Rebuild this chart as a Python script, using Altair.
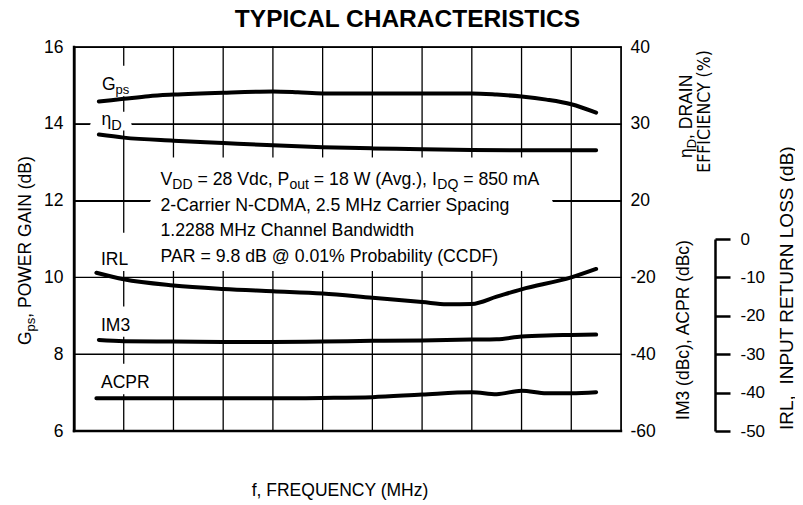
import altair as alt
import pandas as pd

# ---------------- data ----------------
freq_gps = [1870, 1880, 1890, 1900, 1920, 1940, 1950, 1960, 1980, 2000, 2020, 2030, 2040, 2050, 2060, 2070]
gps_db = [14.58, 14.65, 14.72, 14.76, 14.81, 14.84, 14.82, 14.79, 14.79, 14.79, 14.79, 14.76, 14.71, 14.63, 14.51, 14.29]

freq_eff = [1870, 1880, 1900, 1920, 1940, 1960, 1980, 2000, 2020, 2040, 2060, 2070]
eff_pct = [28.6, 28.2, 27.8, 27.5, 27.2, 26.95, 26.8, 26.7, 26.6, 26.55, 26.55, 26.55]

freq_irl = [1869, 1880, 1900, 1920, 1940, 1960, 1980, 2000, 2010, 2020, 2030, 2040, 2060, 2070]
irl_db = [-8.8, -10.5, -12.1, -13.0, -13.6, -14.2, -15.3, -16.4, -17.0, -16.9, -15.0, -13.1, -10.0, -7.8]

freq_im3 = [1870, 1880, 1900, 1920, 1940, 1960, 1980, 2000, 2020, 2030, 2040, 2050, 2060, 2070]
im3_dbc = [-36.3, -36.6, -36.7, -36.8, -36.8, -36.7, -36.5, -36.4, -36.2, -36.1, -35.4, -35.1, -35.0, -34.9]

freq_acpr = [1869, 1900, 1940, 1960, 1980, 2000, 2020, 2030, 2040, 2050, 2060, 2070]
acpr_dbc = [-51.5, -51.5, -51.5, -51.4, -51.2, -50.5, -49.9, -50.4, -49.5, -50.2, -50.2, -49.9]

x_ticks = [1860, 1880, 1900, 1920, 1940, 1960, 1980, 2000, 2020, 2040, 2060, 2080]
gain_ticks = [6, 8, 10, 12, 14, 16]
eff_ticks = [20, 30, 40]
dbc_ticks = [-60, -40, -20]
irl_ticks = [0, -10, -20, -30, -40, -50]

title_text = "TYPICAL CHARACTERISTICS"
x_title = "f, FREQUENCY (MHz)"
cond_lines = [
    [("V", False), ("DD", True), (" = 28 Vdc, P", False), ("out", True),
     (" = 18 W (Avg.), I", False), ("DQ", True), (" = 850 mA", False)],
    [("2-Carrier N-CDMA, 2.5 MHz Carrier Spacing", False)],
    [("1.2288 MHz Channel Bandwidth", False)],
    [("PAR = 9.8 dB @ 0.01% Probability (CCDF)", False)],
]

# ---------------- layout ----------------
W, H = 547, 384
OX, OY = 74, 47          # plot origin in page coordinates
FONT = "Liberation Sans, Arial, Helvetica, sans-serif"
NARROW = "Liberation Sans Narrow, DejaVu Sans Condensed, Liberation Sans, Arial, sans-serif"
FS = 17.5

# gaps in the grid behind labels: (f_from, f_to, gain_from, gain_to) in data units
label_gaps = [
    (1890.6, 2052.6, 10.15, 13.14),   # condition text block
    (1868.8, 1883.0, 14.70, 15.53),   # Gps
    (1866.4, 1883.3, 13.81, 14.33),   # eta D
    (1868.8, 1884.1, 10.15, 11.18),   # IRL
    (1868.8, 1884.1, 8.44, 9.26),     # IM3
    (1868.8, 1891.4, 6.94, 7.77),     # ACPR
]

AW = {' ': 278, '!': 278, '%': 889, '(': 333, ')': 333, ',': 278, '-': 333, '.': 278,
      '=': 584, '@': 1015, 'A': 667, 'B': 667, 'C': 722, 'D': 722, 'E': 667, 'F': 611,
      'G': 778, 'H': 722, 'I': 278, 'K': 667, 'L': 556, 'M': 833, 'N': 722, 'O': 778,
      'P': 667, 'Q': 778, 'R': 722, 'S': 667, 'T': 611, 'U': 722, 'V': 667, 'W': 944,
      'Y': 667, 'a': 556, 'b': 556, 'c': 500, 'd': 556, 'e': 556, 'f': 278, 'g': 556,
      'h': 556, 'i': 222, 'l': 222, 'm': 833, 'n': 556, 'o': 556, 'p': 556, 'r': 333,
      's': 500, 't': 278, 'u': 556, 'v': 500, 'w': 722, 'y': 500, 'z': 500, 'η': 556}


def tw(s, size):
    return sum(AW.get(c, 556) for c in s) * size / 1000.0


def txt(s, x, y, size=FS, angle=0, align="left", weight="normal", font=FONT):
    return alt.Chart(alt.Data(values=[{"k": 0}])).mark_text(
        text=s, fontSize=size, angle=angle, align=align, baseline="alphabetic",
        font=font, fontWeight=weight, color="black"
    ).encode(x=alt.value(x - OX), y=alt.value(y - OY))


def rich(segments, x0, y0, size=FS, subsize=13.5, drop=4.0, angle=0):
    out = []
    pos = 0.0
    for text, sub in segments:
        sz = subsize if sub else size
        body = text.lstrip(" ")
        pos += tw(text[: len(text) - len(body)], sz)
        t = body.rstrip(" ")
        d = drop if sub else 0.0
        if angle == 0:
            out.append(txt(t, x0 + pos, y0 + d, sz))
        else:
            out.append(txt(t, x0 + d, y0 - pos, sz, angle=270))
        pos += tw(body, sz)
    return out


def subtract(lo, hi, cuts):
    segs = [(lo, hi)]
    for a, b in cuts:
        new = []
        for s, e in segs:
            if b <= s or a >= e:
                new.append((s, e))
                continue
            if a > s:
                new.append((s, a))
            if b < e:
                new.append((b, e))
        segs = new
    return segs


# scales / shared x encoding (axis grids on, ticks kept at zero length)
x_scale = alt.Scale(domain=[1860, 2080], nice=False, zero=False)
g_scale = alt.Scale(domain=[6, 16], nice=False, zero=False)
x_enc = alt.X("f:Q", scale=x_scale,
              axis=alt.Axis(values=x_ticks, grid=True, gridColor="black", gridWidth=1.2,
                            gridOpacity=1, ticks=True, tickSize=0, domain=True,
                            domainColor="black", domainWidth=2.2,
                            labelPadding=16, labelFlush=False, title=None,
                            format="d", labelFontSize=FS))


def gain_axis(label_opacity, grid):
    return alt.Axis(orient="left", values=gain_ticks, grid=grid, gridColor="black",
                    gridWidth=1.2, gridOpacity=1, ticks=True, tickSize=0,
                    domain=grid, domainColor="black", domainWidth=2.2,
                    labelPadding=11, labelFlush=False, title=None,
                    labelFontSize=FS, labelOpacity=label_opacity)


# white boxes behind in-plot labels, in gain/frequency data units
df_mask = pd.DataFrame([{"f1": a, "f2": b, "g1": c, "g2": d} for a, b, c, d in label_gaps])
mask_layer = alt.Chart(df_mask).mark_rect(color="white", opacity=1).encode(
    x=alt.X("f1:Q", scale=x_scale, axis=None), x2="f2:Q",
    y=alt.Y("g1:Q", scale=g_scale, axis=None), y2="g2:Q")

# ---------------- grid + frame as segments through the gain scale ----------------
grid_rows = []
n = 0
for t in x_ticks:
    cuts = [(g1, g2) for f1, f2, g1, g2 in label_gaps if f1 < t < f2]
    w = 2.4 if t == x_ticks[0] else 1.3
    for s, e in subtract(gain_ticks[0], gain_ticks[-1], cuts):
        grid_rows += [{"id": f"s{n}", "f": t, "v": s, "w": w},
                      {"id": f"s{n}", "f": t, "v": e, "w": w}]
        n += 1
for g in gain_ticks:
    cuts = [(f1, f2) for f1, f2, g1, g2 in label_gaps if g1 < g < g2]
    w = 2.4 if g == gain_ticks[0] else 1.3
    for s, e in subtract(x_ticks[0], x_ticks[-1], cuts):
        grid_rows += [{"id": f"s{n}", "f": s, "v": g, "w": w},
                      {"id": f"s{n}", "f": e, "v": g, "w": w}]
        n += 1
df_grid = pd.DataFrame(grid_rows)
df_grid["f"] = df_grid["f"].astype(float)
df_grid["v"] = df_grid["v"].astype(float)

grid_layer = alt.Chart(df_grid).mark_line(color="black", strokeCap="square").encode(
    x=x_enc,
    y=alt.Y("v:Q", scale=g_scale, axis=gain_axis(0, False)),
    detail="id:N",
    strokeWidth=alt.StrokeWidth("w:Q", scale=None, legend=None))

# ---------------- series ----------------
line_style = dict(strokeWidth=4, color="black", strokeCap="round", interpolate="monotone")

df_gps = pd.DataFrame({"f": freq_gps, "v": gps_db})
df_eff = pd.DataFrame({"f": freq_eff, "v": eff_pct})
df_irl = pd.DataFrame({"f": freq_irl, "v": irl_db})
df_dbc = pd.concat([
    pd.DataFrame({"f": freq_im3, "v": im3_dbc, "s": "IM3"}),
    pd.DataFrame({"f": freq_acpr, "v": acpr_dbc, "s": "ACPR"}),
])

gps_layer = alt.Chart(df_gps).mark_line(**line_style).encode(
    x=x_enc,
    y=alt.Y("v:Q", scale=g_scale, axis=gain_axis(1, True)))

eff_layer = alt.Chart(df_eff).mark_line(**line_style).encode(
    x=x_enc,
    y=alt.Y("v:Q", scale=alt.Scale(domain=[-10, 40], nice=False, zero=False),
            axis=alt.Axis(orient="right", values=eff_ticks, grid=False, ticks=False,
                          domain=False, labelPadding=9, labelFlush=False, title=None,
                          labelFontSize=FS, labelExpr="'' + datum.value")))

dbc_layer = alt.Chart(df_dbc).mark_line(**line_style).encode(
    x=x_enc,
    y=alt.Y("v:Q", scale=alt.Scale(domain=[-60, 40], nice=False, zero=False),
            axis=alt.Axis(orient="right", values=dbc_ticks, grid=False, ticks=False,
                          domain=False, labelPadding=9, labelFlush=False, title=None,
                          labelFontSize=FS, labelExpr="'' + datum.value")),
    detail="s:N")

irl_layer = alt.Chart(df_irl).mark_line(**line_style).encode(
    x=x_enc,
    y=alt.Y("v:Q", scale=alt.Scale(domain=[-50, 0], range=[H, H - 192], nice=False, zero=False),
            axis=alt.Axis(orient="right", offset=94, values=irl_ticks, grid=False,
                          ticks=True, tickSize=15, tickWidth=2.5, tickColor="black",
                          domain=True, domainWidth=2.5, domainColor="black",
                          labelPadding=10, labelFlush=False, labelFontSize=17, title=None,
                          labelExpr="'' + datum.value")))

texts = []
texts.append(txt(title_text, 407.5, 27, size=24.5, align="center", weight="bold"))
texts.append(txt(x_title, 340, 496, size=FS, align="center"))
# series labels
texts += rich([("G", False), ("ps", True)], 102, 90, subsize=13, drop=4)
texts += rich([("η", False), ("D", True)], 101.5, 124.5, subsize=14.5, drop=5.5)
texts.append(txt("IRL", 101, 264.5))
texts.append(txt("IM3", 101, 331))
texts.append(txt("ACPR", 101, 388))
# condition block
for i, segs in enumerate(cond_lines):
    texts += rich(segs, 160.5, 185 + i * 25.6, size=17.7, subsize=14, drop=4)
# axis titles (rotated)
texts += rich([("G", False), ("ps", True), (",    POWER GAIN (dB)", False)], 30.5, 345,
              subsize=13, drop=4.5, angle=270)
texts += rich([("η", False), ("D", True), (", DRAIN", False)], 691.5, 158,
              subsize=13, drop=4.5, angle=270)
texts.append(txt("EFFICIENCY (%)", 710, 111.5, size=17.5, angle=270, align="center", font=NARROW))
texts.append(txt("IM3 (dBc), ACPR (dBc)", 689, 330, angle=270, align="center"))
texts += rich([("IRL,", False), ("  INPUT RETURN LOSS (dB)", False)], 792.5, 430, size=19, angle=270)

chart = alt.layer(
    mask_layer, grid_layer, gps_layer, eff_layer, dbc_layer, irl_layer, *texts
).resolve_scale(y="independent").properties(
    width=W, height=H,
    padding={"left": OX - 8, "top": OY - 8, "right": 174, "bottom": 70},
    autosize=alt.AutoSizeParams(type="none"),
).configure_view(stroke="black", strokeWidth=1.3).configure_axis(
    labelFont=FONT, labelFontSize=FS, labelColor="black"
)

chart.save("out.html", embed_options={"renderer": "svg", "actions": False})
